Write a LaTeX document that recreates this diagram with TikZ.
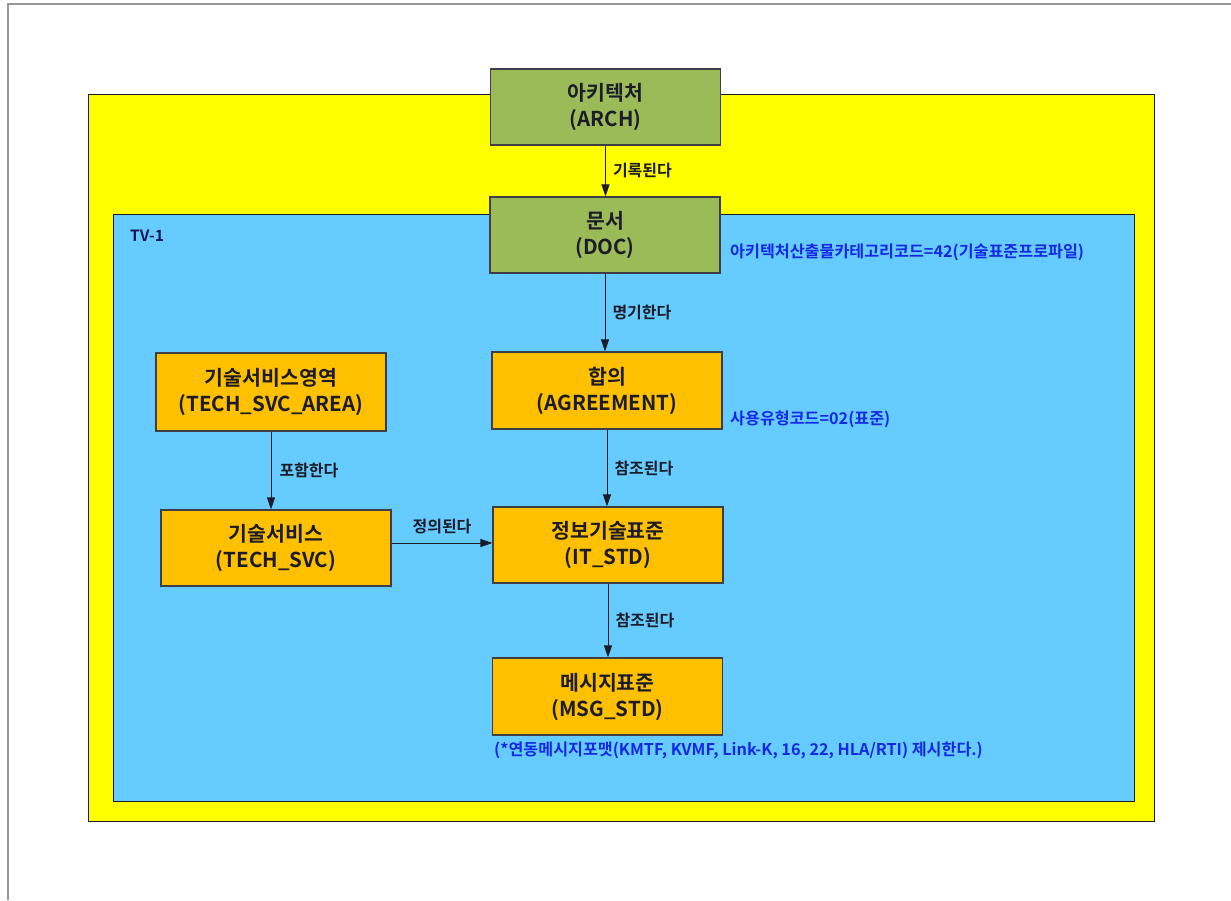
\documentclass[tikz,border=0pt]{standalone}
\usepackage{fontspec}
\setmainfont{Noto Sans CJK KR}[BoldFont={* Bold}]
\newfontfamily\kr{Noto Sans CJK KR Bold}
\usetikzlibrary{arrows.meta,calc}
\definecolor{frameg}{RGB}{150,150,150}
\definecolor{ylw}{RGB}{255,255,0}
\definecolor{sky}{RGB}{102,204,255}
\definecolor{olive}{RGB}{155,187,89}
\definecolor{amber}{RGB}{255,192,0}
\definecolor{ink}{RGB}{28,28,40}
\definecolor{note}{RGB}{20,40,230}
\begin{document}
\begin{tikzpicture}[x=1pt,y=-1pt,
  ent/.style={draw=ink!85,line width=1.2pt,minimum width=230pt,minimum height=76pt,inner sep=0pt,align=center,font=\kr\fontsize{20.5}{26}\selectfont,text=ink},
  archbox/.style={ent,fill=olive},
  stdbox/.style={ent,fill=amber},
  rel/.style={draw=ink,line width=1pt,-{Triangle[length=12pt,width=8pt]}},
  rlab/.style={font=\kr\fontsize{16}{18}\selectfont,text=ink,inner sep=0pt},
  blab/.style={font=\kr\fontsize{16.2}{18}\selectfont,text=note,inner sep=0pt,anchor=west}]
\useasboundingbox (0,0) rectangle (1231,900);
\fill[white] (0,0) rectangle (1231,900);
\draw[frameg,line width=1.5pt] (8,900) -- (8,4) -- (1231,4);
\fill[ylw,draw=ink,line width=1pt] (88,94) rectangle (1154,821);
\fill[sky,draw=ink,line width=1pt] (113,214) rectangle (1134,801);
\node[font=\kr\fontsize{15.5}{17}\selectfont,text=ink!80!blue,anchor=west,inner sep=0pt] (tv) at (130,236) {TV-1};

\node[archbox] (arch) at (605.5,107) {아키텍처\\(ARCH)};
\node[archbox] (doc) at (605,235) {문서\\(DOC)};
\node[stdbox,minimum height=78pt] (area) at (271,392) {기술서비스영역\\(TECH\_SVC\_AREA)};
\node[stdbox] (svc) at (276,548) {기술서비스\\(TECH\_SVC)};
\node[stdbox,minimum height=77pt] (agr) at (607,390.5) {합의\\(AGREEMENT)};
\node[stdbox] (it) at (608,545) {정보기술표준\\(IT\_STD)};
\node[stdbox,minimum height=77pt] (msg) at (607.5,696.5) {메시지표준\\(MSG\_STD)};

\draw[rel] (arch.south) -- (arch.south |- doc.north) node[midway,right=7pt,rlab] {기록된다};
\draw[rel] (doc.south) -- (doc.south |- agr.north) node[midway,right=7pt,rlab] {명기한다};
\draw[rel] (agr.south) -- (agr.south |- it.north) node[midway,right=7pt,rlab] {참조된다};
\draw[rel] (it.south) -- (it.south |- msg.north) node[midway,right=7pt,rlab] {참조된다};
\draw[rel] (area.south) -- (area.south |- svc.north) node[midway,right=8pt,rlab] {포함한다};
\draw[rel] ($(svc.east)+(0,-5)$) -- ($(svc.east -| it.west)+(0,-5)$) node[midway,above=9pt,rlab] {정의된다};

\node[blab] (n1) at (730,252) {아키텍처산출물카테고리코드=42(기술표준프로파일)};
\node[blab] (n2) at (730,419) {사용유형코드=02(표준)};
\node[blab] (n3) at (494,750) {(*연동메시지포맷(KMTF, KVMF, Link-K, 16, 22, HLA/RTI) 제시한다.)};
\end{tikzpicture}
\end{document}
